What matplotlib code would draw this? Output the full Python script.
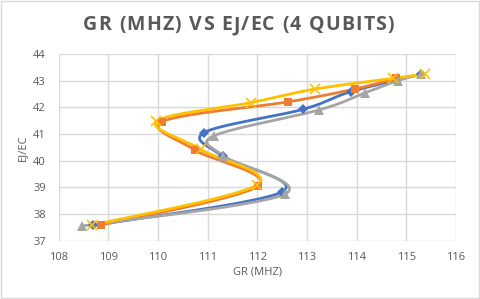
import numpy as np
import matplotlib.pyplot as plt

# valeurs
blue_x = [108.7, 112.5, 111.3, 110.93, 112.92, 113.88, 115.3]
blue_y = [37.57, 38.83, 40.17, 41.05, 41.92, 42.58, 43.24]
orange_x = [108.85, 112.02, 110.74, 110.09, 112.62, 113.96, 114.8]
orange_y = [37.58, 39.06, 40.4, 41.46, 42.2, 42.68, 43.08]
gray_x = [108.48, 112.56, 111.31, 111.13, 113.25, 114.17, 114.84, 115.3]
gray_y = [37.55, 38.75, 40.18, 40.93, 41.9, 42.54, 43.0, 43.25]
yellow_x = [108.67, 112.0, 110.86, 109.97, 111.87, 113.16, 114.73, 115.37]
yellow_y = [37.58, 39.1, 40.42, 41.47, 42.17, 42.68, 43.08, 43.24]

series = [
    (blue_x, blue_y, "#4472C4", "D", 5),
    (orange_x, orange_y, "#ED7D31", "s", 6),
    (gray_x, gray_y, "#A5A5A5", "^", 7),
    (yellow_x, yellow_y, "#FFC000", "x", 7),
]

title = "GR (MHZ) VS EJ/EC (4 QUBITS)"

SX, SY = 49.7, 26.7  # pixels par unité, pour lisser en espace écran


def smooth(xs, ys, n=30):
    # spline de Catmull-Rom (comme la ligne lissée d'Excel)
    p = np.column_stack([np.array(xs) * SX, np.array(ys) * SY])
    p = np.vstack([p[0], p, p[-1]])
    out = []
    for i in range(1, len(p) - 2):
        p0, p1, p2, p3 = p[i - 1], p[i], p[i + 1], p[i + 2]
        c1 = p1 + (p2 - p0) / 6
        c2 = p2 - (p3 - p1) / 6
        t = np.linspace(0, 1, n)[:, None]
        seg = ((1 - t) ** 3) * p1 + 3 * ((1 - t) ** 2) * t * c1 + 3 * (1 - t) * t ** 2 * c2 + t ** 3 * p2
        out.append(seg)
    out = np.vstack(out)
    return out[:, 0] / SX, out[:, 1] / SY


fig = plt.figure(figsize=(4.8, 2.99), dpi=100)
fig.patches.append(plt.Rectangle((0.002, 0.003), 0.996, 0.994, transform=fig.transFigure,
                                 fill=False, edgecolor="#D9D9D9", linewidth=1))
ax = fig.add_axes([0.122, 0.195, 0.828, 0.625])

for xs, ys, col, mk, ms in series:
    sx, sy = smooth(xs, ys)
    ax.plot(sx, sy, color=col, linewidth=2, solid_capstyle="round", zorder=3)
    ax.plot(xs, ys, linestyle="none", marker=mk, color=col, markersize=ms,
            markeredgewidth=1.2 if mk == "x" else 0, zorder=4)

ax.set_xlim(108, 116)
ax.set_ylim(37, 44)
ax.set_xticks(range(108, 117))
ax.set_yticks(range(37, 45))
ax.grid(True, color="#D9D9D9", linewidth=1)
ax.set_axisbelow(True)
for s in ax.spines.values():
    s.set_visible(False)
ax.tick_params(length=0, labelsize=8, labelcolor="#595959")
ax.tick_params(axis="x", pad=8)
ax.tick_params(axis="y", pad=9)
for lab in ax.get_xticklabels() + ax.get_yticklabels():
    lab.set_fontfamily("Open Sans")

ax.set_xlabel("GR (MHZ)", fontsize=8, color="#595959", fontfamily="Open Sans", labelpad=3)
ax.set_ylabel("EJ/EC", fontsize=8, color="#595959", fontfamily="Open Sans", labelpad=4)

# titre avec espacement des lettres
r = fig.canvas.get_renderer()
kw = dict(fontsize=14, fontweight="bold", color="#595959", fontfamily="Open Sans", va="center", ha="left")
widths = []
for ch in title:
    t = fig.text(0, 0, ch if ch != " " else "i", **kw)
    w = t.get_window_extent(r).width
    if ch == " ":
        w *= 1.0
    widths.append(w)
    t.remove()
total = 311.0
spacing = (total - sum(widths)) / (len(title) - 1)
x = 83.0
for ch, w in zip(title, widths):
    if ch != " ":
        fig.text(x / 480, 1 - 25 / 299, ch, **kw)
    x += w + spacing

fig.savefig("out.png", dpi=100)
